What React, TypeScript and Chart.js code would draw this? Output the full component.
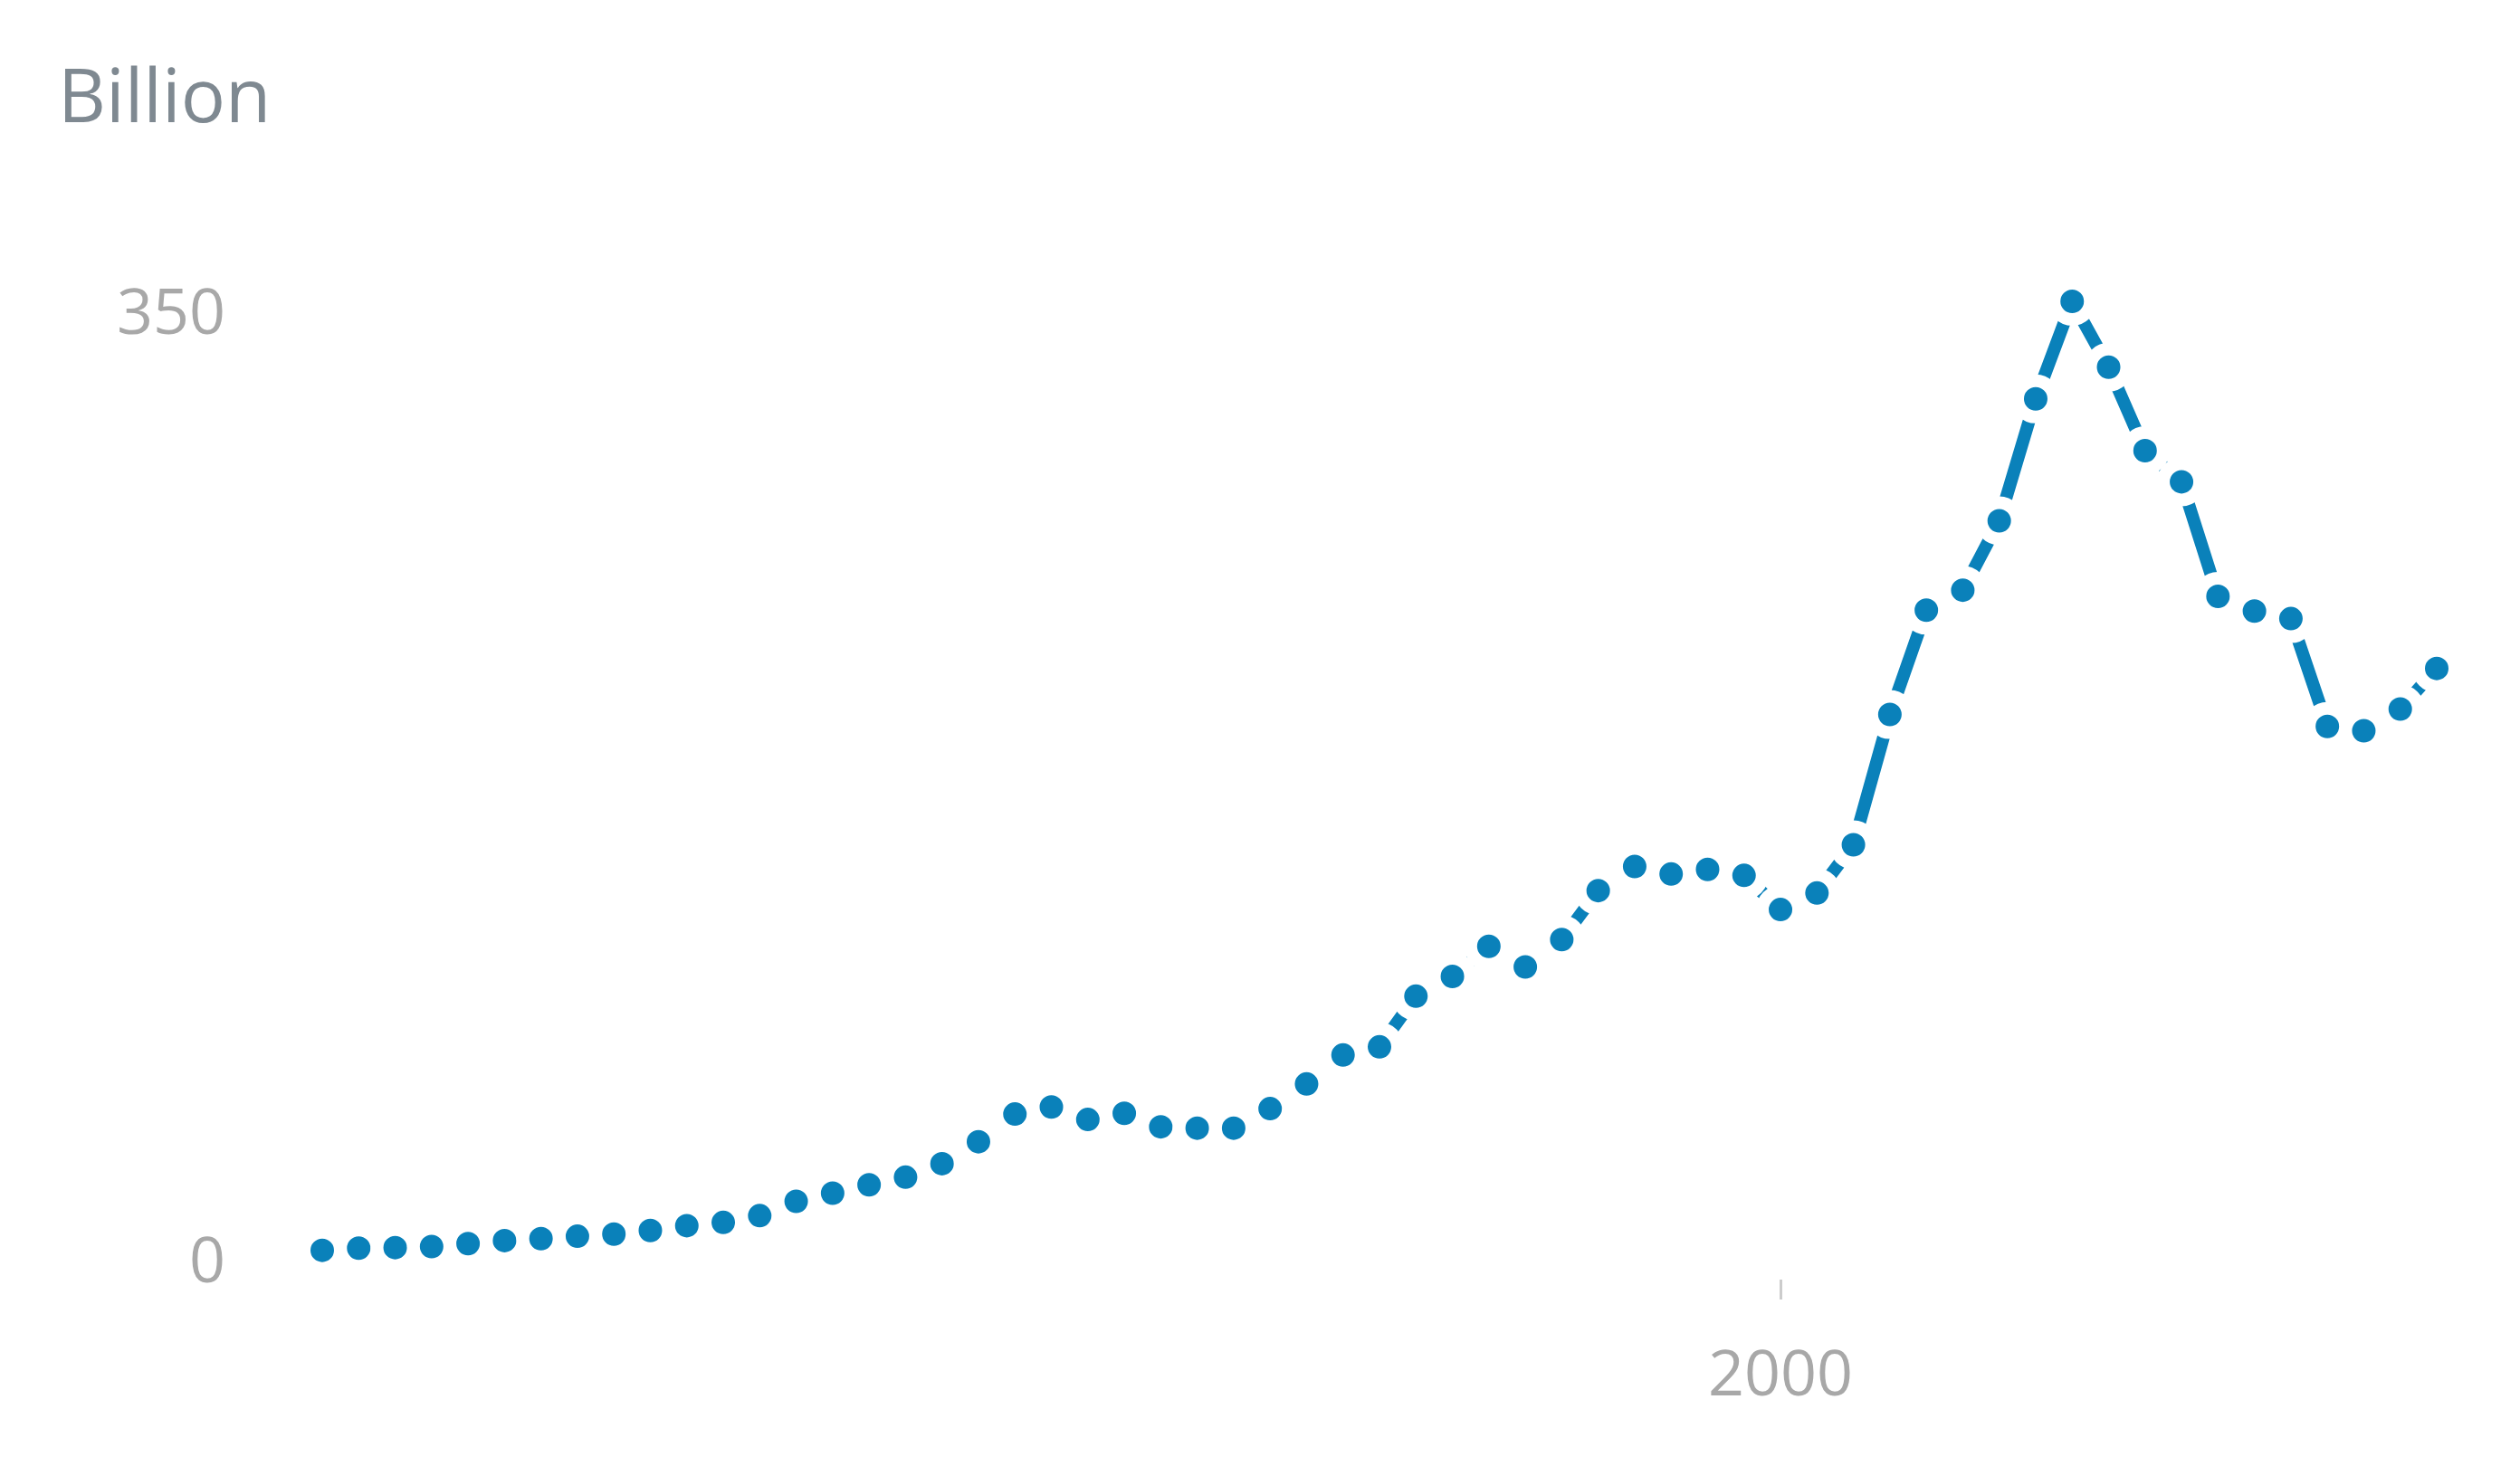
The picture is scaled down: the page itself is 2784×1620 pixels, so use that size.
import React, { useEffect, useRef } from "react";
import { Chart, registerables } from "chart.js";

Chart.register(...registerables);

const years: number[] = [
  1960, 1961, 1962, 1963, 1964, 1965, 1966, 1967, 1968, 1969,
  1970, 1971, 1972, 1973, 1974, 1975, 1976, 1977, 1978, 1979,
  1980, 1981, 1982, 1983, 1984, 1985, 1986, 1987, 1988, 1989,
  1990, 1991, 1992, 1993, 1994, 1995, 1996, 1997, 1998, 1999,
  2000, 2001, 2002, 2003, 2004, 2005, 2006, 2007, 2008, 2009,
  2010, 2011, 2012, 2013, 2014, 2015, 2016, 2017, 2018,
];

const values: number[] = [
  3.3, 4.1, 4.3, 4.7, 5.8, 6.9, 7.6, 8.5, 9.3, 10.6,
  12.4, 13.6, 16.1, 21.4, 24.4, 27.5, 30.3, 35.3, 43.4, 53.6,
  56.2, 51.6, 53.9, 48.9, 48.4, 48.4, 55.6, 64.7, 75.4, 78.4,
  97.1, 104.4, 115.5, 107.9, 118.0, 136.1, 145.0, 142.2, 143.9, 141.7,
  129.1, 135.2, 153.0, 201.1, 239.6, 247.0, 272.6, 317.6, 353.6, 329.3,
  298.5, 287.0, 244.7, 239.3, 236.5, 196.7, 195.1, 203.1, 218.1,
];

const xTickValues: number[] = [2000];
const yTickValues: number[] = [0, 350];
const unitLabel = "Billion";

const LINE_COLOR = "#0a81ba";
const TICK_TEXT = "#a8a8a8";
const TITLE_TEXT = "#7f8991";

const titlePlugin = {
  id: "unitTitle",
  afterDraw(chart: any) {
    const ctx = chart.ctx;
    ctx.save();
    ctx.font = "82px 'Open Sans'";
    ctx.fillStyle = TITLE_TEXT;
    ctx.textBaseline = "alphabetic";
    ctx.textAlign = "left";
    ctx.fillText(unitLabel, 56, 127);
    ctx.restore();
  },
};

export default function App() {
  const canvasRef = useRef<HTMLCanvasElement | null>(null);

  useEffect(() => {
    if (!canvasRef.current) return;
    const points = years.map((yr, i) => ({ x: yr, y: values[i] }));
    const chart = new Chart(canvasRef.current, {
      type: "line",
      data: {
        datasets: [
          {
            data: points,
            borderColor: LINE_COLOR,
            borderWidth: 14,
            borderCapStyle: "butt",
            pointRadius: 20,
            pointBorderWidth: 14,
            pointBackgroundColor: LINE_COLOR,
            pointBorderColor: "#ffffff",
            pointHoverRadius: 20,
            tension: 0,
            clip: false,
          } as any,
        ],
      },
      plugins: [titlePlugin],
      options: {
        animation: false,
        responsive: true,
        maintainAspectRatio: false,
        devicePixelRatio: 1,
        layout: { padding: { top: 246, right: 84, bottom: 0, left: 0 } },
        plugins: {
          legend: { display: false },
          tooltip: { enabled: false },
          title: { display: false },
        },
        scales: {
          x: {
            type: "linear",
            min: 1960,
            max: 2018,
            afterBuildTicks: (s: any) => {
              s.ticks = xTickValues.map((v) => ({ value: v }));
            },
            afterFit: (s: any) => {
              s.height = 198;
            },
            border: { display: false },
            grid: {
              display: true,
              drawOnChartArea: false,
              drawTicks: true,
              tickLength: 22,
              tickWidth: 3,
              tickColor: "#cccccc",
            },
            ticks: {
              padding: 44,
              color: TICK_TEXT,
              font: { family: "'Open Sans'", size: 70 },
              maxRotation: 0,
              autoSkip: false,
              callback: (v: any) => String(v),
            },
          },
          y: {
            type: "linear",
            min: -7.5,
            max: 380,
            afterBuildTicks: (s: any) => {
              s.ticks = yTickValues.map((v) => ({ value: v }));
            },
            afterFit: (s: any) => {
              s.width = 348;
            },
            border: { display: false },
            grid: { display: false, drawTicks: false, tickLength: 0 },
            ticks: {
              padding: 107,
              color: TICK_TEXT,
              font: { family: "'Open Sans'", size: 70, lineHeight: "11px" },
              autoSkip: false,
              callback: (v: any) => ["", String(v)],
            },
          },
        },
      } as any,
    });
    return () => chart.destroy();
  }, []);

  return (
    <div style={{ position: "relative", width: "2768px", height: "1604px" }}>
      <canvas ref={canvasRef} />
    </div>
  );
}
